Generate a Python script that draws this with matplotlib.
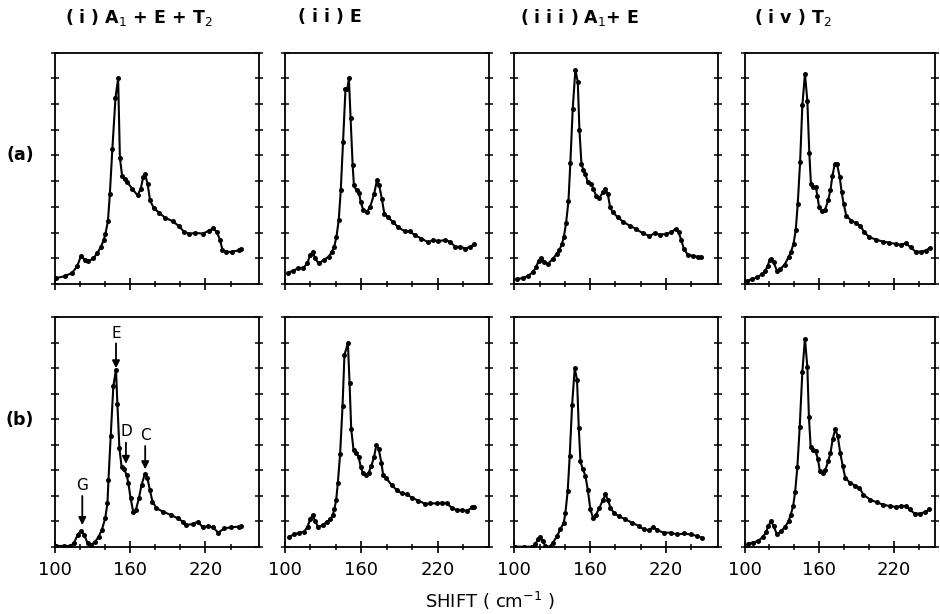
import matplotlib
matplotlib.use("Agg")
import matplotlib.pyplot as plt

# ---------------- data (shift in cm^-1, intensity in arbitrary units 0-9) ----------------
a1_x = [101.3, 108, 114, 118, 121, 124, 127, 131, 134, 137, 139, 140.5, 142.5, 144, 146,
        148.5, 150.6, 152, 153.8, 156, 158, 162, 166, 168.5, 170.5, 172, 174, 176, 179, 183,
        188, 194, 199, 203, 207, 212, 218, 223, 226, 229, 231.5, 233.5, 236, 241, 247, 248.5]
a1_y = [0.23, 0.3, 0.43, 0.69, 1.08, 0.95, 0.88, 1.0, 1.2, 1.45, 1.7, 1.95, 2.45, 3.5, 5.25,
        7.25, 8.0, 4.9, 4.2, 4.1, 3.95, 3.7, 3.45, 3.7, 4.15, 4.27, 3.9, 3.25, 2.95, 2.78,
        2.58, 2.44, 2.25, 2.03, 1.95, 1.99, 1.96, 2.08, 2.16, 2.03, 1.73, 1.34, 1.25, 1.25, 1.32, 1.36]

a2_x = [102.6, 106.6, 110.6, 114.5, 117.7, 119.8, 122, 123.8, 126.5, 130.4, 134.4, 137, 138.8,
        140.5, 142.3, 143.9, 145.7, 147.6, 149, 150.3, 151.6, 153.2, 154.2, 156.3, 158.2, 159.5,
        161.6, 164.3, 166.9, 170.1, 172.2, 174, 176.2, 178, 180.7, 184.6, 188.6, 193.9, 197.9,
        201.9, 207.1, 212.4, 216.4, 220.4, 225.7, 229.6, 233.6, 237.6, 241.5, 245.5, 248.1]
a2_y = [0.44, 0.52, 0.61, 0.63, 0.8, 1.12, 1.25, 1.0, 0.8, 0.93, 1.06, 1.25, 1.45,
        1.83, 2.48, 3.64, 5.54, 7.58, 7.58, 8.0, 6.45, 4.64, 3.84, 3.64, 3.55, 3.19,
        2.87, 2.8, 3.0, 3.51, 4.03, 3.84, 3.29, 2.74, 2.61, 2.42, 2.22, 2.05, 2.05,
        1.9, 1.77, 1.62, 1.71, 1.67, 1.71, 1.64, 1.45, 1.45, 1.38, 1.45, 1.54]

a3_x = [101.8, 106.6, 110.6, 114.6, 117.2, 119.3, 121.2, 123.8, 126.5, 130.4, 133.6, 135.7,
        137.8, 139.2, 141, 142.9, 144.4, 146.3, 148.4, 150.3, 151.6, 153.2, 154.8, 156.3, 158.2,
        160.8, 162.7, 164.8, 167.5, 170.1, 172.2, 174.1, 175.9, 178, 182, 186, 191.3, 196.6,
        201.9, 207.1, 211.1, 215.1, 220.4, 224.3, 227.8, 230.2, 232.3, 234.4, 237.6, 241.5,
        245.5, 248.1]
a3_y = [0.19, 0.23, 0.32, 0.45, 0.65, 0.91, 1.01, 0.84, 0.78, 0.97, 1.17, 1.32,
        1.56, 1.82, 2.36, 3.22, 4.7, 6.82, 8.34, 7.86, 6.0, 4.68, 4.42, 4.29, 3.96,
        3.9, 3.7, 3.44, 3.35, 3.57, 3.7, 3.5, 2.99, 2.79, 2.6, 2.43, 2.27, 2.14,
        1.97, 1.87, 1.97, 1.92, 1.95, 2.01, 2.14, 2.01, 1.71, 1.36, 1.13, 1.1,
        1.06, 1.04]

a4_x = [102.1, 106.1, 110.1, 114.1, 116.7, 118.6, 120.2, 121.5, 123.3, 126, 128.6, 132.1,
        135.3, 137.1, 139.3, 141.1, 142.7, 144.6, 146.4, 148.5, 150.4, 152, 153.3, 155.2, 157.3,
        158.4, 159.9, 161.8, 164.5, 167.1, 169, 170.6, 172.4, 174.3, 176.4, 178, 179.6, 181.7,
        185.7, 189.7, 192.8, 196.3, 200.3, 205.6, 210.9, 216.2, 221.5, 225.5, 229.4, 233.4,
        237.4, 241.4, 245.4, 248.8]
a4_y = [0.13, 0.19, 0.26, 0.39, 0.52, 0.71, 0.94, 0.97, 0.84, 0.52, 0.58, 0.75,
        1.04, 1.23, 1.56, 2.1, 3.12, 4.74, 6.95, 8.18, 7.14, 5.09, 3.9, 3.79, 3.77,
        3.44, 2.99, 2.83, 2.86, 3.25, 3.66, 4.22, 4.65, 4.65, 4.18, 3.57, 3.12, 2.66,
        2.47, 2.36, 2.27, 2.01, 1.82, 1.73, 1.65, 1.61, 1.56, 1.53, 1.58, 1.43,
        1.26, 1.26, 1.3, 1.4]

b1_x = [100.8, 107.4, 112.6, 115.3, 118.4, 121, 123.7, 126.3, 129, 132.4, 135, 137.6, 140.3,
        142.1, 142.9, 144.7, 146.8, 148.9, 150, 151.6, 153.4, 155.3, 157.4, 158.7, 160.5,
        162.6, 164.7, 167.1, 169.2, 171.8, 173.9, 175.8, 177.9, 181.1, 186.3, 192.9, 198.2,
        202.1, 204.7, 210, 213.9, 217.9, 221.8, 225.8, 230.3, 235, 240.3, 246.8, 248.2]
b1_y = [0.03, 0.03, 0.03, 0.13, 0.46, 0.63, 0.46, 0.13, 0.07, 0.2, 0.39, 0.65, 1.11,
        1.7, 2.62, 4.35, 6.31, 6.94, 5.6, 3.86, 3.12, 3.04, 2.81, 2.51, 1.9,
        1.37, 1.44, 1.9, 2.42, 2.85, 2.68, 2.23, 1.77, 1.51, 1.37, 1.24, 1.11,
        0.98, 0.85, 0.89, 0.98, 0.76, 0.81, 0.76, 0.55, 0.72, 0.76, 0.79, 0.81]

b2_x = [103.4, 107.4, 111.3, 115.3, 117.9, 120, 121.8, 123.7, 126.3, 129.7, 133.2, 135.8,
        137.6, 138.9, 140.3, 141.6, 143.4, 145.3, 146.8, 149.5, 150.8, 152.1, 153.9, 156.1,
        157.9, 159.5, 161.3, 163.9, 165.8, 167.9, 170, 171.8, 173.7, 175.8, 177.1, 179.7,
        183.7, 187.6, 191.6, 195.5, 199.5, 204.7, 210, 213.9, 219.2, 223.2, 227.1, 231.1,
        235, 238.9, 242.9, 246.8, 248.2]
b2_y = [0.39, 0.48, 0.55, 0.59, 0.79, 1.07, 1.24, 1.02, 0.76, 0.85, 0.98, 1.07,
        1.24, 1.47, 1.83, 2.49, 3.64, 5.52, 7.53, 7.98, 6.41, 4.61, 3.8, 3.69,
        3.53, 3.14, 2.88, 2.81, 2.91, 3.17, 3.53, 3.99, 3.82, 3.27, 2.81, 2.68,
        2.42, 2.23, 2.09, 2.07, 1.92, 1.81, 1.68, 1.7, 1.7, 1.73, 1.7, 1.51,
        1.44, 1.44, 1.41, 1.54, 1.54]

b3_x = [100.8, 107.4, 114, 116.7, 118.5, 120.6, 122.8, 124.6, 128, 130.7, 133.9, 136.5,
        139.2, 140.5, 142.3, 143.9, 145.8, 147.9, 149.7, 151.1, 152.4, 154.2, 156.3, 158.2,
        160.3, 162.4, 164.8, 167.5, 170.4, 172.2, 174.1, 176.2, 178.8, 182.8, 188.1, 193.4,
        198.7, 202.6, 206.6, 210.1, 213.2, 218.5, 223.8, 229.1, 234.4, 239.7, 245, 248.4]
b3_y = [0, 0, 0, 0.09, 0.29, 0.39, 0.22, 0.03, 0, 0.16, 0.42, 0.68,
        0.94, 1.33, 2.18, 3.55, 5.57, 7.0, 6.55, 4.65, 3.35, 3.05, 2.79, 2.24,
        1.46, 1.13, 1.26, 1.53, 1.85, 2.05, 1.85, 1.53, 1.33, 1.2, 1.07, 0.94,
        0.81, 0.68, 0.65, 0.78, 0.65, 0.55, 0.55, 0.48, 0.52, 0.48, 0.42, 0.35]

b4_x = [102.7, 106.6, 110.6, 114.6, 117.2, 119.1, 121.2, 123.3, 126, 129.2, 132.6, 135.3,
        137.1, 139, 140.6, 142.4, 144.3, 146.4, 148.5, 150.4, 151.7, 153.1, 155.2, 157,
        158.9, 160.5, 162.6, 165, 167.1, 169, 170.8, 172.9, 174.8, 176.9, 178.8, 180.9,
        184.9, 188.9, 192.3, 195.5, 200.8, 206.1, 211.4, 216.7, 222, 226, 229.4, 232.6,
        236.6, 240.6, 244.6, 248.5]
b4_y = [0.12, 0.16, 0.22, 0.38, 0.57, 0.81, 1.0, 0.81, 0.48, 0.61, 0.78, 1.0,
        1.26, 1.59, 2.14, 3.13, 4.71, 6.86, 8.16, 7.06, 5.07, 3.91, 3.8, 3.74,
        3.44, 2.96, 2.89, 3.02, 3.35, 3.67, 4.23, 4.61, 4.35, 3.67, 3.18, 2.7,
        2.5, 2.4, 2.3, 2.04, 1.85, 1.74, 1.65, 1.59, 1.56, 1.59, 1.59, 1.46,
        1.3, 1.3, 1.35, 1.46]

col_titles = ["( i ) A$_1$ + E + T$_2$", "( i i ) E", "( i i i ) A$_1$+ E", "( i v ) T$_2$"]
row_labels = ["(a)", "(b)"]
x_major = [100, 160, 220]
x_minor = [120, 140, 180, 200, 240]
y_ticks = list(range(0, 10))
x_label = "SHIFT ( cm$^{-1}$ )"

# annotations for panel (b)(i): label, x, label y, arrow start y, arrow tip y
peak_labels = ["E", "D", "C", "G"]
peak_x = [148.9, 156.8, 172.1, 122.1]
peak_label_y = [8.38, 4.52, 4.35, 2.42]
peak_arrow_from = [7.98, 4.08, 3.95, 1.99]
peak_arrow_to = [7.0, 3.25, 3.04, 0.85]

series = [[(a1_x, a1_y), (a2_x, a2_y), (a3_x, a3_y), (a4_x, a4_y)],
          [(b1_x, b1_y), (b2_x, b2_y), (b3_x, b3_y), (b4_x, b4_y)]]

# ---------------- layout (pixels) ----------------
W, H = 940, 614
col_left = [54.5, 284.7, 514.3, 744.6]
col_right = [259.0, 489.0, 718.0, 935.0]
col_xmax = [262.6, 260.0, 261.4, 253.0]
row_top = [52.7, 317.3]
row_bot = [284.0, 546.7]
col_title_x = [139, 330, 580, 793]
row_label_y = [155, 420]

plt.rcParams['font.family'] = ['DejaVu Sans']
fig = plt.figure(figsize=(W / 100, H / 100), dpi=100)
fig.patch.set_facecolor('white')

for r in range(2):
    for c in range(4):
        l, rr = col_left[c], col_right[c]
        t, b = row_top[r], row_bot[r]
        ax = fig.add_axes([l / W, 1 - b / H, (rr - l) / W, (b - t) / H])
        x, y = series[r][c]
        ax.plot(x, y, color='black', lw=1.5, marker='o', ms=3.6,
                markeredgewidth=0, solid_joinstyle='round', solid_capstyle='round')
        ax.set_xlim(100, col_xmax[c])
        ax.set_ylim(0, 9)
        for s in ax.spines.values():
            s.set_linewidth(1.3)
        ax.set_xticks(x_major)
        ax.set_xticks(x_minor, minor=True)
        ax.set_yticks(y_ticks)
        ax.set_yticklabels([])
        ax.tick_params(axis='y', which='major', direction='inout', length=6, width=1.1,
                       left=True, right=True)
        ax.tick_params(axis='x', which='major', direction='inout', length=9, width=1.2, pad=6)
        ax.tick_params(axis='x', which='minor', direction='inout', length=5, width=1.1)
        if r == 1:
            ax.set_xticklabels([str(v) for v in x_major], fontsize=13)
        else:
            ax.set_xticklabels([])
        if r == 1 and c == 0:
            for lab, px, ly, y0, y1 in zip(peak_labels, peak_x, peak_label_y,
                                            peak_arrow_from, peak_arrow_to):
                ax.text(px, ly, lab, ha='center', va='center', fontsize=11)
                ax.annotate('', xy=(px, y1), xytext=(px, y0),
                            arrowprops=dict(arrowstyle='-|>', color='black', lw=1.3,
                                            mutation_scale=11, shrinkA=0, shrinkB=0))

for c in range(4):
    fig.text(col_title_x[c] / W, 1 - 17 / H, col_titles[c], ha='center', va='center',
             fontsize=12.5, fontweight='bold')
for r in range(2):
    fig.text(20 / W, 1 - row_label_y[r] / H, row_labels[r], ha='center', va='center',
             fontsize=12.5, fontweight='bold')
fig.text(490 / W, 1 - 601 / H, x_label, ha='center', va='center', fontsize=13)

fig.savefig("out.png", dpi=100, facecolor='white')
